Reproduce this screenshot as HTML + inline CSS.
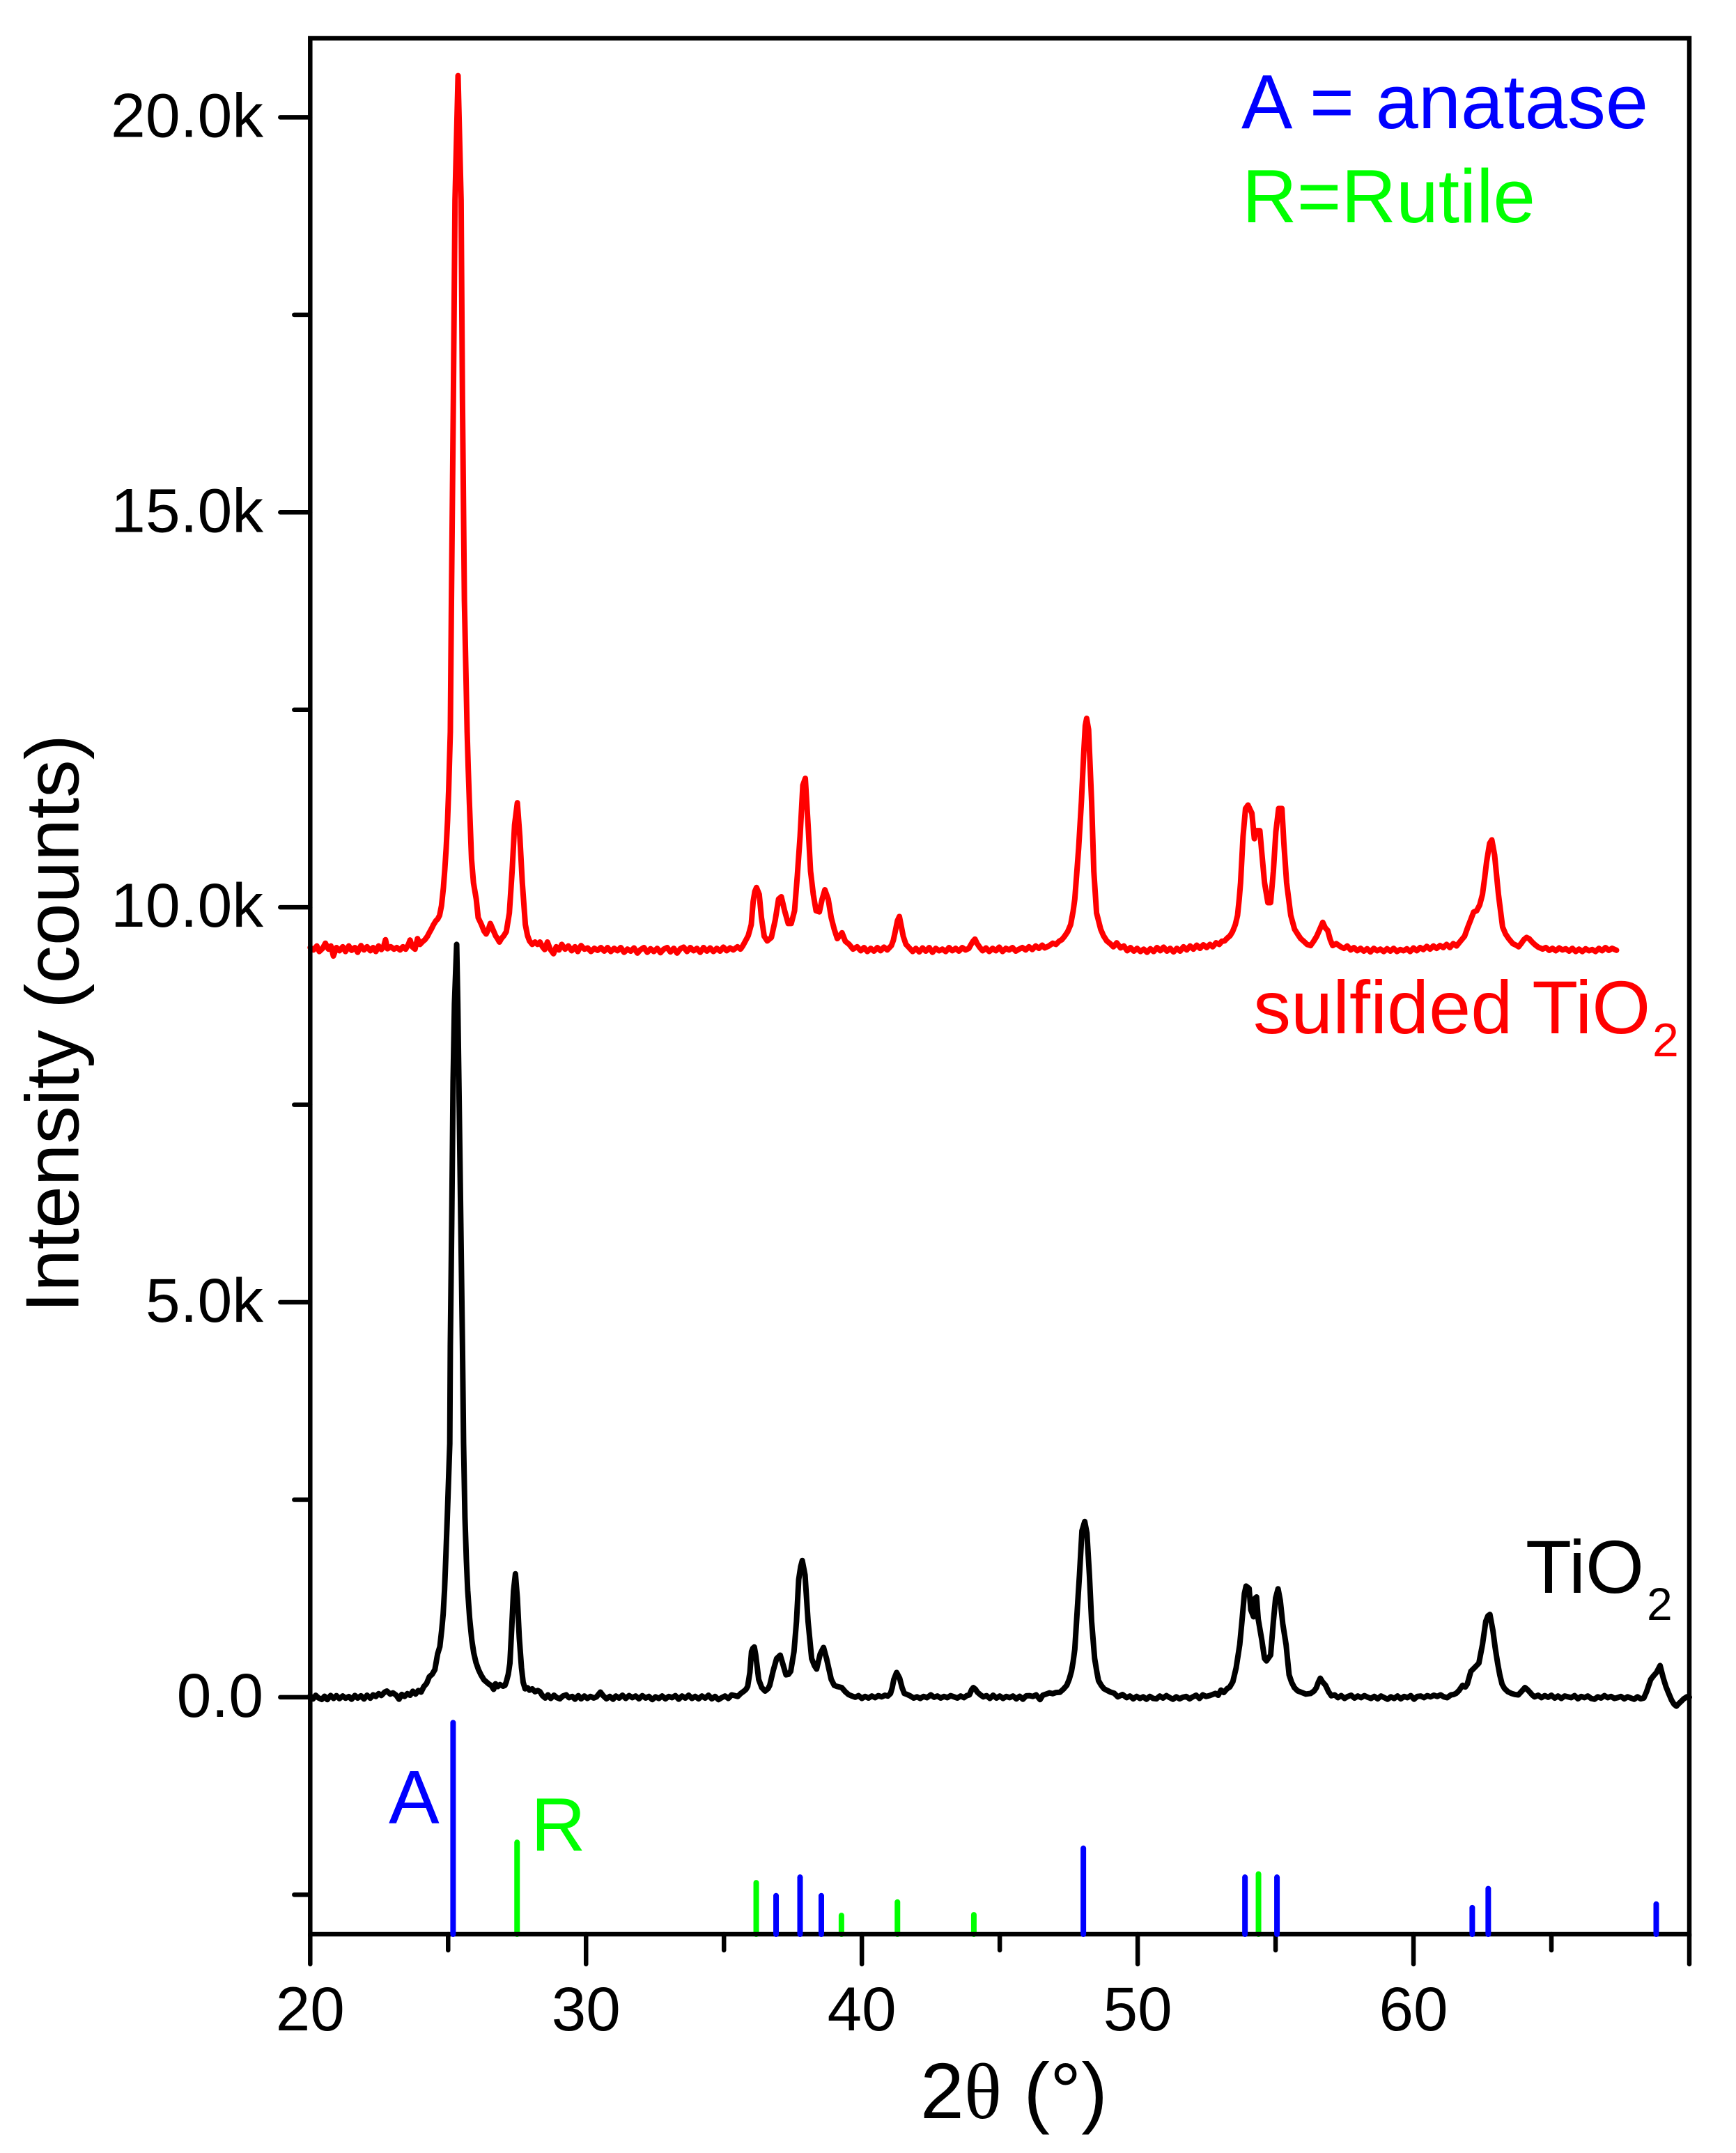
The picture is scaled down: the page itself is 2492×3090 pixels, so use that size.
<!DOCTYPE html>
<html lang="en">
<head>
<meta charset="utf-8">
<title>XRD patterns of TiO2 and sulfided TiO2</title>
<style>
  html, body { margin: 0; padding: 0; background: #fff; }
  svg { display: block; }
  text { font-family: "Liberation Sans", sans-serif; }
</style>
</head>
<body>
<svg id="chart" xmlns="http://www.w3.org/2000/svg" width="2492" height="3090" viewBox="0 0 2492 3090">
  <rect x="0" y="0" width="2492" height="3090" fill="#ffffff"/>
  <g id="stick-green-layer"></g>
  <g id="trace-layer"></g>
  <g id="axis-layer"></g>
  <g id="stick-blue-layer"></g>

  <text transform="translate(112.5 1884) rotate(-90)" font-size="109" fill="#000">Intensity (counts)</text>
  <text x="1321" y="3040" font-size="113" fill="#000">2<tspan style="font-family:'Liberation Serif',serif">θ</tspan> (°)</text>

  <text x="1782" y="184" font-size="110" fill="#0000ff">A = anatase</text>
  <text x="1783" y="319" font-size="109" fill="#00ff00">R=Rutile</text>
  <text x="1799" y="1483" font-size="108" fill="#ff0000">sulfided TiO</text>
  <text x="2372" y="1516" font-size="68" fill="#ff0000">2</text>
  <text x="2190" y="2286" font-size="108" fill="#000000">TiO</text>
  <text x="2364" y="2325" font-size="66" fill="#000000">2</text>
  <text x="558" y="2617" font-size="109" fill="#0000ff">A</text>
  <text x="762" y="2656" font-size="109" fill="#00ff00">R</text>
</svg>

<script>
const xMajorTicks = [20, 30, 40, 50, 60, 70];
const xMinorTicks = [25, 35, 45, 55, 65];
const xTickLabels = ["20", "30", "40", "50", "60", ""];
const yMajorTicks = [0, 5000, 10000, 15000, 20000];
const yMinorTicks = [-2500, 2500, 7500, 12500, 17500];
const yTickLabels = ["0.0", "5.0k", "10.0k", "15.0k", "20.0k"];

const anataseAngles = [25.18, 36.89, 37.76, 38.53, 48.03, 53.89, 55.05, 62.13, 62.71, 68.80];
const anataseTops = [-322, -2513, -2278, -2513, -1912, -2278, -2278, -2664, -2423, -2619];
const rutileAngles = [27.50, 36.17, 39.26, 41.29, 44.06, 54.38];
const rutileTops = [-1837, -2348, -2763, -2593, -2754, -2238];

const blackAngles = [
20.00,20.10,20.20,20.30,20.42,20.52,20.62,20.74,20.85,20.95,
21.06,21.18,21.28,21.40,21.50,21.62,21.72,21.84,21.95,22.06,
22.18,22.28,22.38,22.48,22.58,22.70,22.78,22.90,23.00,23.12,
23.22,23.32,23.42,23.52,23.62,23.72,23.82,23.92,24.02,24.12,
24.22,24.32,24.42,24.52,24.62,24.70,24.77,24.82,24.87,24.92,
24.97,25.02,25.06,25.08,25.13,25.18,25.23,25.31,25.35,25.39,
25.46,25.52,25.56,25.61,25.66,25.71,25.78,25.86,25.93,26.01,
26.10,26.19,26.30,26.40,26.48,26.56,26.65,26.72,26.80,26.88,
26.99,27.06,27.11,27.18,27.24,27.31,27.37,27.44,27.51,27.58,
27.66,27.72,27.79,27.88,27.95,28.05,28.15,28.25,28.33,28.42,
28.52,28.62,28.72,28.84,28.94,29.05,29.16,29.28,29.38,29.50,
29.60,29.72,29.82,29.94,30.05,30.16,30.28,30.38,30.52,30.62,
30.74,30.86,30.98,31.08,31.20,31.32,31.44,31.56,31.68,31.80,
31.92,32.04,32.16,32.28,32.40,32.52,32.64,32.76,32.88,33.00,
33.12,33.24,33.36,33.48,33.60,33.72,33.84,33.96,34.08,34.20,
34.32,34.44,34.56,34.68,34.80,34.92,35.04,35.16,35.28,35.40,
35.50,35.60,35.73,35.80,35.86,35.94,36.00,36.05,36.10,36.15,
36.20,36.26,36.37,36.49,36.60,36.66,36.79,36.91,37.04,37.14,
37.25,37.34,37.42,37.54,37.63,37.71,37.78,37.84,37.94,38.05,
38.18,38.28,38.36,38.49,38.61,38.72,38.89,39.00,39.10,39.27,
39.40,39.52,39.64,39.76,39.88,40.00,40.12,40.24,40.36,40.48,
40.60,40.72,40.84,40.94,41.04,41.10,41.16,41.26,41.37,41.46,
41.54,41.64,41.76,41.88,42.00,42.12,42.24,42.36,42.50,42.62,
42.74,42.86,42.98,43.10,43.22,43.34,43.46,43.58,43.70,43.80,
43.90,43.98,44.04,44.12,44.19,44.30,44.40,44.52,44.64,44.76,
44.88,45.00,45.12,45.24,45.36,45.48,45.60,45.72,45.84,45.96,
46.08,46.20,46.32,46.46,46.56,46.68,46.80,46.92,47.04,47.18,
47.30,47.43,47.52,47.60,47.66,47.72,47.81,47.89,47.98,48.08,
48.16,48.25,48.33,48.44,48.52,48.58,48.68,48.78,48.90,49.03,
49.15,49.28,49.45,49.60,49.72,49.84,49.96,50.08,50.20,50.32,
50.44,50.56,50.68,50.80,50.92,51.04,51.16,51.28,51.40,51.52,
51.64,51.76,51.88,52.00,52.12,52.24,52.36,52.48,52.60,52.72,
52.82,52.92,53.02,53.12,53.24,53.34,53.45,53.57,53.70,53.78,
53.87,53.93,54.04,54.10,54.20,54.26,54.31,54.37,54.50,54.60,
54.67,54.82,54.92,55.00,55.09,55.17,55.26,55.38,55.49,55.58,
55.68,55.80,55.93,56.10,56.27,56.40,56.48,56.55,56.62,56.70,
56.81,56.92,57.02,57.14,57.26,57.38,57.50,57.62,57.74,57.86,
57.98,58.10,58.22,58.34,58.46,58.58,58.70,58.82,58.94,59.06,
59.18,59.30,59.42,59.54,59.66,59.78,59.90,60.02,60.14,60.26,
60.38,60.50,60.62,60.74,60.86,60.98,61.10,61.22,61.36,61.45,
61.55,61.65,61.78,61.88,61.95,62.08,62.20,62.37,62.50,62.62,
62.70,62.77,62.88,62.96,63.05,63.13,63.21,63.30,63.42,63.55,
63.68,63.80,63.92,64.04,64.12,64.22,64.30,64.39,64.52,64.64,
64.76,64.88,65.00,65.12,65.24,65.36,65.48,65.60,65.72,65.84,
65.96,66.08,66.20,66.32,66.44,66.56,66.68,66.80,66.92,67.04,
67.16,67.28,67.40,67.52,67.64,67.76,67.88,68.00,68.12,68.24,
68.35,68.45,68.60,68.70,68.81,68.94,69.05,69.15,69.25,69.36,
69.45,69.53,69.62,69.70,69.80,69.91,70.00
];
const blackCounts = [
18,-22,24,-8,-28,12,-30,22,-15,20,
-18,15,-12,8,-25,22,-10,18,-22,25,
-12,30,10,45,22,65,78,40,55,25,
-25,35,10,45,25,75,40,85,65,135,
175,260,290,350,549,640,858,1050,1353,1800,
2281,2800,3210,4447,5993,7788,8777,9530,8777,7788,
5993,4447,3210,2281,1750,1353,1000,720,560,440,
350,284,220,190,166,150,100,170,135,160,
140,150,195,290,430,901,1342,1562,1254,754,
372,190,107,120,90,105,70,85,70,20,
-10,30,-15,25,-5,-20,15,30,-5,10,
-25,20,-20,15,-15,10,-10,5,65,20,
-20,10,-25,15,-10,25,-15,20,-5,15,
-20,20,-10,10,-30,5,-15,15,-20,10,
-5,20,-25,15,-10,25,-15,10,-20,15,
-10,25,-20,10,-30,-5,15,-15,30,20,
10,45,78,100,137,313,578,620,636,540,
401,225,122,78,110,151,342,489,533,416,
284,290,328,578,960,1489,1650,1730,1548,960,
489,400,357,548,630,489,225,150,137,122,
70,33,15,0,20,-15,10,-10,15,-5,
20,5,25,15,48,120,225,313,240,120,
48,35,15,-10,5,-15,10,-5,30,0,
15,-10,10,-5,20,5,-10,15,-5,20,
30,95,122,100,63,30,5,20,-15,25,
-10,15,-15,10,-5,15,-20,12,-25,18,
20,10,30,-30,25,40,55,45,60,63,
100,151,230,328,450,607,1107,1548,2107,2224,
2077,1548,960,490,320,210,150,107,85,63,
50,5,34,-5,15,-20,10,-15,5,-25,
10,-15,-20,15,-10,20,-5,-25,5,-20,
0,10,-20,5,25,-15,30,10,20,35,
48,25,90,60,107,130,196,372,666,960,
1313,1407,1377,1107,1019,1254,1269,989,725,490,
460,534,960,1254,1372,1225,931,666,284,190,
122,80,63,40,48,80,122,190,240,195,
151,70,19,30,-5,20,-15,10,25,-10,
15,-5,20,0,-15,10,-20,15,-5,-25,
5,-15,15,-20,10,-5,20,-25,10,15,
-5,20,5,25,10,30,5,-5,30,34,
50,85,151,130,166,328,370,431,666,960,
1030,1048,842,630,431,280,166,110,70,48,
35,30,75,122,100,63,30,5,25,-5,
20,0,25,-10,15,-15,15,5,-5,20,
-20,10,-5,15,-15,-25,5,-10,20,-5,
10,-15,-5,10,-20,5,-10,-25,5,-20,
-10,70,225,270,313,401,250,137,50,-40,
-90,-113,-80,-54,-20,5,0
];

const redAngles = [
20.00,20.12,20.24,20.33,20.45,20.55,20.66,20.75,20.84,20.95,
21.06,21.18,21.28,21.40,21.50,21.62,21.72,21.84,21.95,22.06,
22.18,22.28,22.38,22.48,22.58,22.66,22.73,22.80,22.92,23.04,
23.14,23.26,23.36,23.46,23.56,23.62,23.70,23.80,23.89,23.98,
24.06,24.16,24.25,24.32,24.40,24.47,24.56,24.62,24.69,24.76,
24.83,24.88,24.93,24.98,25.02,25.08,25.12,25.19,25.25,25.36,
25.47,25.52,25.59,25.69,25.73,25.77,25.85,25.92,26.02,26.09,
26.21,26.30,26.38,26.46,26.53,26.64,26.72,26.79,26.86,26.93,
27.02,27.11,27.22,27.32,27.41,27.51,27.60,27.69,27.80,27.88,
27.95,28.05,28.15,28.24,28.33,28.42,28.50,28.60,28.70,28.82,
28.92,29.02,29.12,29.24,29.36,29.48,29.60,29.70,29.82,29.94,
30.06,30.18,30.30,30.42,30.54,30.66,30.78,30.90,31.02,31.14,
31.26,31.38,31.50,31.62,31.74,31.86,31.98,32.10,32.22,32.34,
32.46,32.58,32.70,32.82,32.94,33.06,33.18,33.30,33.42,33.54,
33.66,33.78,33.90,34.02,34.14,34.26,34.38,34.50,34.62,34.74,
34.86,34.98,35.10,35.22,35.34,35.49,35.60,35.68,35.78,35.88,
35.99,36.06,36.12,36.18,36.28,36.36,36.46,36.57,36.72,36.86,
36.98,37.08,37.20,37.33,37.44,37.56,37.66,37.76,37.86,37.95,
38.05,38.14,38.24,38.34,38.46,38.56,38.66,38.78,38.89,39.00,
39.11,39.20,39.28,39.40,39.54,39.68,39.83,39.96,40.08,40.20,
40.32,40.44,40.56,40.68,40.80,40.92,41.07,41.14,41.21,41.29,
41.36,41.43,41.50,41.60,41.72,41.84,41.96,42.08,42.20,42.32,
42.44,42.56,42.68,42.80,42.92,43.04,43.16,43.28,43.40,43.52,
43.64,43.76,43.88,43.96,44.03,44.10,44.18,44.28,44.38,44.50,
44.62,44.74,44.86,44.98,45.10,45.22,45.34,45.46,45.58,45.70,
45.82,45.94,46.06,46.18,46.30,46.42,46.54,46.63,46.78,46.92,
47.04,47.15,47.25,47.35,47.46,47.57,47.66,47.72,47.86,47.96,
48.04,48.10,48.15,48.22,48.33,48.41,48.51,48.66,48.76,48.88,
49.00,49.12,49.24,49.38,49.50,49.62,49.74,49.86,49.98,50.10,
50.22,50.34,50.46,50.58,50.70,50.82,50.94,51.06,51.18,51.30,
51.42,51.54,51.66,51.78,51.90,52.02,52.14,52.26,52.38,52.50,
52.62,52.72,52.84,52.96,53.05,53.15,53.25,53.35,53.44,53.54,
53.62,53.68,53.73,53.82,53.91,54.00,54.14,54.23,54.28,54.43,
54.50,54.60,54.72,54.82,54.92,55.01,55.11,55.23,55.30,55.40,
55.55,55.69,55.80,55.91,56.02,56.14,56.27,56.38,56.49,56.60,
56.71,56.80,56.89,56.98,57.07,57.20,57.36,57.48,57.60,57.72,
57.84,57.96,58.08,58.20,58.32,58.44,58.56,58.68,58.80,58.92,
59.04,59.16,59.28,59.40,59.52,59.64,59.76,59.88,60.00,60.12,
60.24,60.36,60.48,60.60,60.72,60.84,60.96,61.08,61.20,61.32,
61.44,61.56,61.70,61.85,61.96,62.07,62.18,62.29,62.40,62.50,
62.58,62.65,62.76,62.84,62.94,63.08,63.23,63.34,63.45,63.60,
63.72,63.81,63.90,64.00,64.10,64.20,64.30,64.39,64.52,64.68,
64.80,64.92,65.04,65.16,65.28,65.40,65.52,65.64,65.76,65.88,
66.00,66.12,66.24,66.36,66.48,66.60,66.72,66.84,66.96,67.08,67.20,67.36
];
const redCounts = [
9490,9460,9510,9440,9480,9545,9470,9510,9383,9490,
9450,9500,9440,9510,9455,9490,9430,9515,9460,9500,
9450,9490,9440,9510,9465,9500,9589,9475,9500,9470,
9490,9460,9500,9470,9530,9585,9500,9470,9603,9530,
9560,9590,9633,9680,9730,9780,9830,9850,9897,10020,
10250,10480,10750,11100,11485,12220,13885,16417,18949,20527,
18949,16417,13885,12220,11750,11338,10603,10309,10103,9868,
9780,9700,9662,9720,9795,9706,9640,9603,9560,9603,
9640,9692,9927,10456,11044,11323,10897,10309,9780,9640,
9574,9530,9560,9530,9560,9500,9465,9560,9470,9412,
9500,9460,9530,9470,9510,9450,9500,9440,9515,9470,
9485,9440,9480,9455,9490,9445,9490,9440,9480,9450,
9490,9430,9470,9445,9485,9420,9465,9490,9430,9475,
9440,9480,9425,9470,9490,9435,9480,9420,9475,9495,
9440,9490,9450,9480,9430,9490,9445,9485,9440,9480,
9445,9495,9450,9485,9460,9500,9470,9510,9574,9640,
9780,10074,10200,10250,10162,9868,9633,9574,9618,9839,
10103,10133,9956,9795,9795,9956,10397,10897,11544,11632,
11044,10456,10162,9956,9942,10103,10221,10103,9868,9720,
9603,9640,9677,9570,9530,9470,9500,9450,9490,9440,
9480,9445,9490,9450,9495,9460,9515,9580,9692,9830,
9883,9760,9633,9530,9486,9440,9480,9435,9485,9445,
9490,9430,9480,9450,9470,9440,9490,9450,9480,9445,
9490,9460,9480,9530,9570,9597,9540,9490,9450,9485,
9440,9480,9450,9495,9440,9480,9460,9490,9445,9470,
9490,9460,9500,9465,9510,9480,9520,9486,9510,9545,
9530,9570,9590,9633,9690,9780,9950,10103,10750,11338,
11926,12300,12391,12250,11338,10456,9927,9721,9640,9574,
9540,9500,9550,9486,9510,9450,9490,9445,9480,9440,
9470,9430,9475,9440,9490,9450,9495,9445,9480,9435,
9480,9445,9500,9460,9510,9470,9520,9480,9525,9490,
9530,9500,9550,9530,9570,9574,9610,9640,9692,9780,
9897,10100,10309,10897,11250,11294,11191,10868,10970,10970,
10691,10309,10059,10059,10456,10956,11250,11250,10809,10309,
9897,9721,9660,9603,9570,9530,9515,9570,9633,9720,
9809,9740,9706,9590,9515,9540,9500,9480,9510,9460,
9490,9450,9480,9445,9475,9435,9480,9450,9470,9440,
9475,9445,9480,9440,9465,9450,9475,9440,9485,9450,
9490,9465,9505,9470,9510,9480,9515,9490,9530,9490,
9540,9510,9570,9633,9740,9839,9940,9956,10030,10162,
10370,10574,10809,10853,10662,10162,9750,9660,9603,9540,
9520,9500,9540,9590,9618,9600,9560,9530,9495,9471,
9490,9455,9480,9450,9485,9460,9475,9445,9480,9440,
9470,9440,9475,9450,9465,9440,9480,9450,9490,9455,9480,9456
];

const SVG_NS = "http://www.w3.org/2000/svg";
const plotLeft = 445.3;
const plotRight = 2425;
const plotTop = 55;
const plotBottom = 2776;
const xDomainMin = 20;
const xDomainMax = 70;
const yDomainMin = -3000;
const yDomainMax = 21000;

function xScale(angle) {
  return plotLeft + (angle - xDomainMin) * (plotRight - plotLeft) / (xDomainMax - xDomainMin);
}
function yScale(count) {
  return plotBottom - (count - yDomainMin) * (plotBottom - plotTop) / (yDomainMax - yDomainMin);
}
function make(tag, attrs, parent) {
  const el = document.createElementNS(SVG_NS, tag);
  for (const k in attrs) el.setAttribute(k, attrs[k]);
  parent.appendChild(el);
  return el;
}

const greenLayer = document.getElementById("stick-green-layer");
const blueLayer = document.getElementById("stick-blue-layer");
const traceLayer = document.getElementById("trace-layer");
const axisLayer = document.getElementById("axis-layer");

rutileAngles.forEach(function (angle, i) {
  const stick = make("line", {
    x1: xScale(angle), x2: xScale(angle),
    y1: yScale(yDomainMin), y2: yScale(rutileTops[i]),
    stroke: "#00ff00", "stroke-width": 8, "stroke-linecap": "round"
  }, greenLayer);
  
  
});

function tracePoints(angles, counts) {
  const n = Math.min(angles.length, counts.length);
  const pts = [];
  for (let i = 0; i < n; i++) {
    pts.push(xScale(angles[i]).toFixed(2) + "," + yScale(counts[i]).toFixed(2));
  }
  return pts.join(" ");
}

const blackTrace = make("polyline", {
  points: tracePoints(blackAngles, blackCounts),
  fill: "none", stroke: "#000000", "stroke-width": 8,
  "stroke-linejoin": "round", "stroke-linecap": "round"
}, traceLayer);



const redTrace = make("polyline", {
  points: tracePoints(redAngles, redCounts),
  fill: "none", stroke: "#ff0000", "stroke-width": 8,
  "stroke-linejoin": "round", "stroke-linecap": "round"
}, traceLayer);



const frame = make("rect", {
  x: plotLeft, y: plotTop, width: plotRight - plotLeft, height: plotBottom - plotTop,
  fill: "none", stroke: "#000000", "stroke-width": 6.5
}, axisLayer);



const majorLen = 43;
const minorLen = 23;

xMajorTicks.forEach(function (v, i) {
  const tick = make("line", {
    x1: xScale(v), x2: xScale(v), y1: plotBottom, y2: plotBottom + majorLen,
    stroke: "#000", "stroke-width": 6.5, "stroke-linecap": "round"
  }, axisLayer);
  
  
  if (xTickLabels[i]) {
    const label = make("text", {
      x: xScale(v), y: 2914, "font-size": 89, "text-anchor": "middle", fill: "#000"
    }, axisLayer);
    label.textContent = xTickLabels[i];
    
    
  }
});

xMinorTicks.forEach(function (v) {
  const tick = make("line", {
    x1: xScale(v), x2: xScale(v), y1: plotBottom, y2: plotBottom + minorLen,
    stroke: "#000", "stroke-width": 6.5, "stroke-linecap": "round"
  }, axisLayer);
  
  
});

yMajorTicks.forEach(function (v, i) {
  const tick = make("line", {
    x1: plotLeft, x2: plotLeft - majorLen, y1: yScale(v), y2: yScale(v),
    stroke: "#000", "stroke-width": 6.5, "stroke-linecap": "round"
  }, axisLayer);
  
  
  const label = make("text", {
    x: 378, y: yScale(v) + 28, "font-size": 89.5, "text-anchor": "end", fill: "#000"
  }, axisLayer);
  label.textContent = yTickLabels[i];
  
  
});

yMinorTicks.forEach(function (v) {
  const tick = make("line", {
    x1: plotLeft, x2: plotLeft - minorLen, y1: yScale(v), y2: yScale(v),
    stroke: "#000", "stroke-width": 6.5, "stroke-linecap": "round"
  }, axisLayer);
  
  
});

anataseAngles.forEach(function (angle, i) {
  const stick = make("line", {
    x1: xScale(angle), x2: xScale(angle),
    y1: yScale(yDomainMin), y2: yScale(anataseTops[i]),
    stroke: "#0000ff", "stroke-width": 8, "stroke-linecap": "round"
  }, blueLayer);
  
  
});
</script>
</body>
</html>
